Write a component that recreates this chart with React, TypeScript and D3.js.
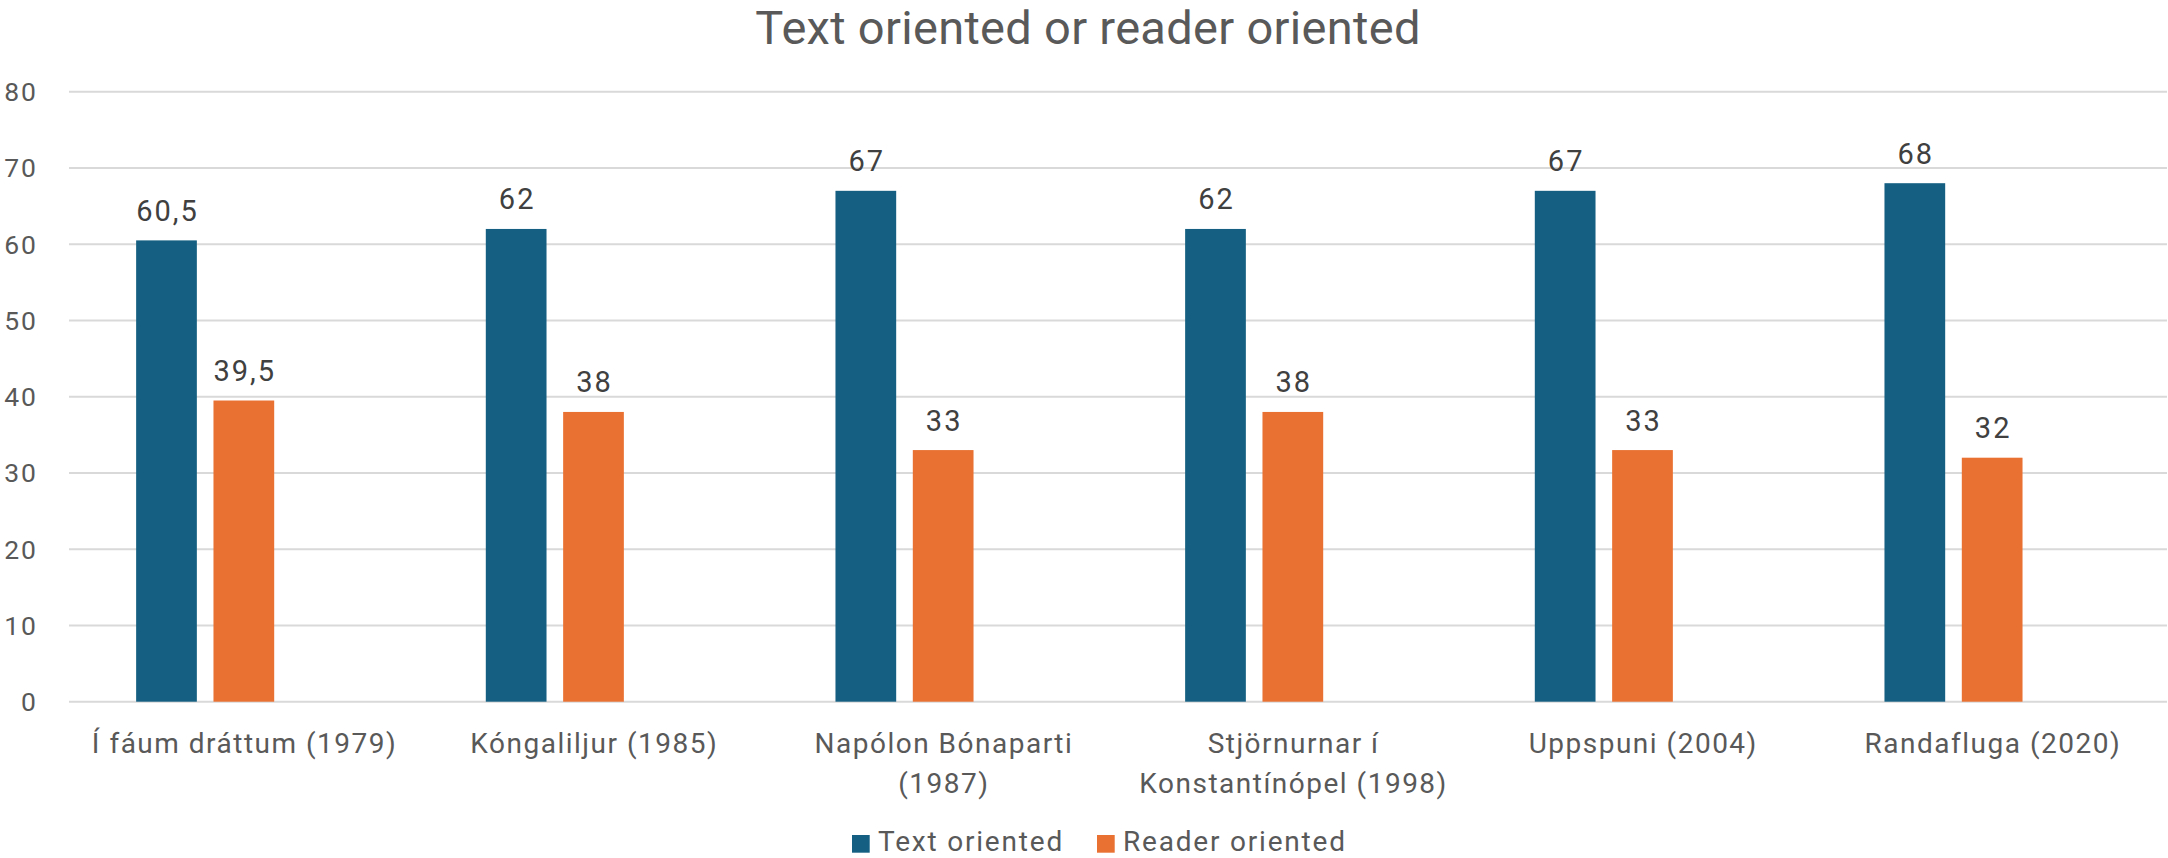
import * as d3 from "d3";
import { useEffect } from "react";

const categories = [
  ["Í fáum dráttum (1979)"],
  ["Kóngaliljur (1985)"],
  ["Napólon Bónaparti", "(1987)"],
  ["Stjörnurnar í", "Konstantínópel (1998)"],
  ["Uppspuni (2004)"],
  ["Randafluga (2020)"],
];
const textOriented = [60.5, 62, 67, 62, 67, 68];
const readerOriented = [39.5, 38, 33, 38, 33, 32];
const seriesNames = ["Text oriented", "Reader oriented"];
const seriesColors = ["#156082", "#E97132"];
const yTicks = [0, 10, 20, 30, 40, 50, 60, 70, 80];

const W = 2168,
  H = 858;
const margin = { left: 69, right: 1, top: 91.7, bottom: 156.3 };
const font = "Roboto, 'Liberation Sans', sans-serif";

// excel leaves room for a third (empty) series in every group
const slots = [0, 1, 2];

export default function App() {
  useEffect(() => {
    document.body.style.margin = "0";
  }, []);

  const x0 = d3
    .scaleBand()
    .domain(categories.map((c, i) => String(i)))
    .range([margin.left, W - margin.right])
    .paddingInner(0.384)
    .paddingOuter(0.192);
  const x1 = d3
    .scaleBand()
    .domain(slots.map(String))
    .range([0, x0.bandwidth()])
    .paddingInner(0.215);
  const y = d3
    .scaleLinear()
    .domain([0, 80])
    .range([H - margin.bottom, margin.top]);

  const series = [textOriented, readerOriented];
  const fmt = (v) => String(v).replace(".", ",");

  return (
    <svg width={W} height={H} style={{ display: "block", background: "#fff" }} fontFamily={font}>
      <text
        x={1088}
        y={44}
        textAnchor="middle"
        fontSize={47}
        letterSpacing={0.3}
        fill="#595959"
      >
        Text oriented or reader oriented
      </text>

      <g>
        {yTicks.map((t) => (
          <g key={t}>
            <line
              x1={margin.left}
              x2={W - margin.right}
              y1={y(t)}
              y2={y(t)}
              stroke="#D9D9D9"
              strokeWidth={2}
            />
            <text
              x={38}
              y={y(t)}
              dy="0.36em"
              textAnchor="end"
              fontSize={26.5}
              letterSpacing={2}
              fill="#595959"
            >
              {t}
            </text>
          </g>
        ))}
      </g>

      <g>
        {categories.map((c, i) => (
          <g key={i}>
            {series.map((vals, s) => {
              const bx = x0(String(i)) + x1(String(s));
              return (
                <g key={s}>
                  <rect
                    x={bx}
                    y={y(vals[i])}
                    width={x1.bandwidth()}
                    height={y(0) - y(vals[i])}
                    fill={seriesColors[s]}
                  />
                  <text
                    x={bx + x1.bandwidth() / 2 + 1}
                    y={y(vals[i]) - 19.5}
                    textAnchor="middle"
                    fontSize={29}
                    letterSpacing={2}
                    fill="#404040"
                  >
                    {fmt(vals[i])}
                  </text>
                </g>
              );
            })}
            {c.map((line, li) => (
              <text
                key={li}
                x={x0(String(i)) + x0.bandwidth() / 2 + 0.75}
                y={753 + li * 40}
                textAnchor="middle"
                fontSize={28}
                letterSpacing={1.5}
                fill="#595959"
              >
                {line}
              </text>
            ))}
          </g>
        ))}
      </g>

      <g>
        {seriesNames.map((n, s) => {
          const lx = [852, 1097][s];
          return (
            <g key={n}>
              <rect x={lx} y={835} width={17.7} height={17.7} fill={seriesColors[s]} />
              <text x={lx + 26} y={851} fontSize={28} letterSpacing={1.8} fill="#595959">
                {n}
              </text>
            </g>
          );
        })}
      </g>
    </svg>
  );
}
